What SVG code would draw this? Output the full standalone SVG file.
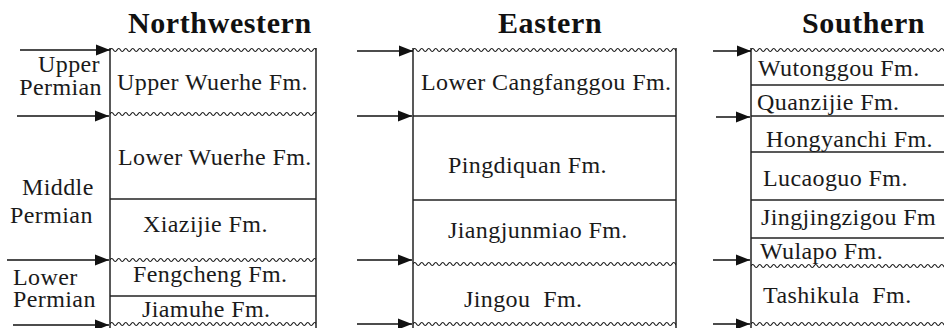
<svg xmlns="http://www.w3.org/2000/svg" width="944" height="328" viewBox="0 0 944 328">
<style>
text{font-family:'Liberation Serif','DejaVu Serif',serif}
.t{font-size:24px;fill:#1a1a1a;letter-spacing:0.4px}
.h{font-size:30px;font-weight:bold;fill:#111;letter-spacing:0.6px}
.b{stroke:#222;stroke-width:1.5;fill:none}
.w{stroke:#1a1a1a;stroke-width:1.2;fill:none}
.a{stroke:#111;stroke-width:1.5;fill:none;marker-end:url(#ah)}
</style>
<defs>
<marker id="ah" markerUnits="userSpaceOnUse" markerWidth="14" markerHeight="12" refX="14" refY="6" orient="auto">
<path d="M0,0.5 L14,6 L0,11.5 z" fill="#111"/>
</marker>
<path id="wv" class="w" d="M0,0 q1.75,-3 3.5,0 t3.5,0 t3.5,0 t3.5,0 t3.5,0 t3.5,0 t3.5,0 t3.5,0 t3.5,0 t3.5,0 t3.5,0 t3.5,0 t3.5,0 t3.5,0 t3.5,0 t3.5,0 t3.5,0 t3.5,0 t3.5,0 t3.5,0 t3.5,0 t3.5,0 t3.5,0 t3.5,0 t3.5,0 t3.5,0 t3.5,0 t3.5,0 t3.5,0 t3.5,0 t3.5,0 t3.5,0 t3.5,0 t3.5,0 t3.5,0 t3.5,0 t3.5,0 t3.5,0 t3.5,0 t3.5,0 t3.5,0 t3.5,0 t3.5,0 t3.5,0 t3.5,0 t3.5,0 t3.5,0 t3.5,0 t3.5,0 t3.5,0 t3.5,0 t3.5,0 t3.5,0 t3.5,0 t3.5,0 t3.5,0 t3.5,0 t3.5,0 t3.5,0 t3.5,0 t3.5,0 t3.5,0 t3.5,0 t3.5,0 t3.5,0 t3.5,0 t3.5,0 t3.5,0 t3.5,0 t3.5,0 t3.5,0 t3.5,0 t3.5,0 t3.5,0 t3.5,0 t3.5,0 t3.5,0 t3.5,0 t3.5,0 t3.5,0"/>
<clipPath id="cNW"><rect x="110" y="0" width="206" height="328"/></clipPath>
<clipPath id="cE"><rect x="413" y="0" width="263" height="328"/></clipPath>
<clipPath id="cS"><rect x="751" y="0" width="193" height="328"/></clipPath>
</defs>
<rect width="944" height="328" fill="#fff"/>

<g id="titles">
<text class="h" x="128" y="33">Northwestern</text>
<text class="h" x="498" y="33">Eastern</text>
<text class="h" x="802" y="33">Southern</text>
</g>

<g id="epochs">
<text class="t" x="100" y="72" text-anchor="end">Upper</text>
<text class="t" x="102" y="95" text-anchor="end">Permian</text>
<text class="t" x="22" y="195">Middle</text>
<text class="t" x="10" y="223">Permian</text>
<text class="t" x="13" y="285">Lower</text>
<text class="t" x="13" y="307">Permian</text>
</g>

<g id="northwestern">
<line class="b" x1="110" y1="48" x2="110" y2="328"/>
<line class="b" x1="316" y1="48" x2="316" y2="328"/>
<g clip-path="url(#cNW)">
<use href="#wv" x="110" y="50"/>
<use href="#wv" x="110" y="114"/>
<use href="#wv" x="110" y="260"/>
<use href="#wv" x="110" y="324"/>
</g>
<line class="b" x1="110" y1="199" x2="316" y2="199"/>
<line class="b" x1="110" y1="296" x2="316" y2="296"/>
<text class="t" x="117" y="90">Upper Wuerhe Fm.</text>
<text class="t" x="118" y="165">Lower Wuerhe Fm.</text>
<text class="t" x="143" y="232">Xiazijie Fm.</text>
<text class="t" x="133" y="282">Fengcheng Fm.</text>
<text class="t" x="142" y="317">Jiamuhe Fm.</text>
</g>

<g id="eastern">
<line class="b" x1="413" y1="48" x2="413" y2="328"/>
<line class="b" x1="676" y1="48" x2="676" y2="328"/>
<g clip-path="url(#cE)">
<use href="#wv" x="413" y="50"/>
<use href="#wv" x="413" y="264"/>
<use href="#wv" x="413" y="324"/>
</g>
<line class="b" x1="413" y1="116" x2="676" y2="116"/>
<line class="b" x1="413" y1="200" x2="676" y2="200"/>
<text class="t" x="421" y="90">Lower Cangfanggou Fm.</text>
<text class="t" x="448" y="173">Pingdiquan Fm.</text>
<text class="t" x="448" y="238">Jiangjunmiao Fm.</text>
<text class="t" x="464" y="307" xml:space="preserve">Jingou  Fm.</text>
</g>

<g id="southern">
<line class="b" x1="751" y1="48" x2="751" y2="328"/>
<g clip-path="url(#cS)">
<use href="#wv" x="751" y="50"/>
<use href="#wv" x="751" y="266"/>
<use href="#wv" x="751" y="324"/>
</g>
<line class="b" x1="751" y1="85" x2="944" y2="85"/>
<line class="b" x1="751" y1="116" x2="944" y2="116"/>
<line class="b" x1="751" y1="152" x2="944" y2="152"/>
<line class="b" x1="751" y1="200" x2="944" y2="200"/>
<line class="b" x1="751" y1="238" x2="944" y2="238"/>
<text class="t" x="758" y="76">Wutonggou Fm.</text>
<text class="t" x="757" y="110">Quanzijie Fm.</text>
<text class="t" x="766" y="147">Hongyanchi Fm.</text>
<text class="t" x="763" y="186">Lucaoguo Fm.</text>
<text class="t" x="761" y="225">Jingjingzigou Fm</text>
<text class="t" x="760" y="259">Wulapo Fm.</text>
<text class="t" x="763" y="303" xml:space="preserve">Tashikula  Fm.</text>
</g>

<g id="connectors">
<line class="a" x1="20" y1="50" x2="110" y2="50"/>
<line class="a" x1="17" y1="116" x2="109" y2="116"/>
<line class="a" x1="7" y1="260" x2="109" y2="260"/>
<line class="a" x1="13" y1="325" x2="109" y2="325"/>
<line class="a" x1="357" y1="51" x2="413" y2="51"/>
<line class="a" x1="357" y1="116" x2="412" y2="116"/>
<line class="a" x1="357" y1="260" x2="412" y2="260"/>
<line class="a" x1="357" y1="324" x2="412" y2="324"/>
<line class="a" x1="713" y1="51" x2="751" y2="51"/>
<line class="a" x1="716" y1="117" x2="750" y2="117"/>
<line class="a" x1="713" y1="260" x2="750" y2="260"/>
<line class="a" x1="713" y1="324" x2="750" y2="324"/>
</g>
</svg>
